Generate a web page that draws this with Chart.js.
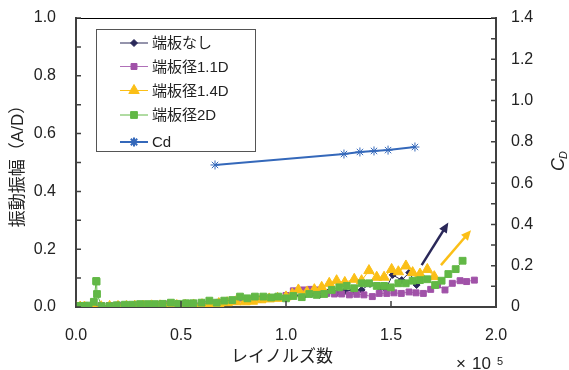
<!DOCTYPE html>
<html>
<head>
<meta charset="utf-8">
<script src="https://cdn.jsdelivr.net/npm/chart.js@4.4.1/dist/chart.umd.min.js"></script>
<style>body{margin:0;background:#fff}</style>
</head>
<body>
<canvas id="myChart" width="569" height="370"></canvas>
<script>
// ---------------- data (Re in units of 1e5) ----------------
var reNashi = [0.0,0.02,0.04,0.08,0.12,0.16,0.2,0.24,0.28,0.32,0.36,0.40,0.44,0.48,0.52,0.56,0.60,0.64,0.68,0.72,0.76,0.80,0.84,0.88,0.92,0.96,1.0,1.04,1.08,1.12,1.16,1.20,1.24,1.28,1.32,1.36,1.40,1.448,1.475,1.508,1.551,1.587,1.622];
var ampNashi = [0.002,0.002,0.003,0.004,0.005,0.005,0.006,0.006,0.007,0.007,0.008,0.008,0.008,0.0,0.009,0.010,0.011,0.012,0.015,0.017,0.020,0.022,0.025,0.028,0.030,0.033,0.035,0.040,0.036,0.045,0.042,0.050,0.048,0.055,0.059,0.059,0.080,0.065,0.062,0.111,0.093,0.119,0.076];

var re11D = [0.0,0.02,0.04,0.08,0.12,0.16,0.2,0.24,0.28,0.32,0.36,0.40,0.44,0.48,0.52,0.56,0.60,0.64,0.68,0.72,0.76,0.80,0.84,0.88,0.92,0.96,1.0,1.035,1.082,1.114,1.154,1.194,1.23,1.265,1.302,1.337,1.371,1.411,1.444,1.48,1.514,1.549,1.586,1.619,1.654,1.689,1.722,1.757,1.792,1.829,1.86,1.897];
var amp11D = [0.002,0.002,0.003,0.004,0.005,0.005,0.006,0.006,0.007,0.008,0.008,0.009,0.010,0.008,0.011,0.012,0.012,0.014,0.016,0.018,0.020,0.022,0.025,0.028,0.030,0.034,0.040,0.056,0.059,0.061,0.059,0.047,0.045,0.045,0.042,0.044,0.042,0.036,0.047,0.047,0.049,0.047,0.052,0.049,0.047,0.061,0.076,0.059,0.082,0.091,0.088,0.093];

var re14D = [0.0,0.02,0.04,0.08,0.12,0.16,0.2,0.24,0.28,0.32,0.36,0.40,0.44,0.48,0.52,0.56,0.60,0.64,0.68,0.72,0.76,0.805,0.84,0.88,0.92,0.96,1.0,1.03,1.059,1.10,1.135,1.17,1.206,1.241,1.28,1.325,1.36,1.395,1.432,1.467,1.503,1.535,1.571,1.603,1.638,1.673,1.706];
var amp14D = [0.0,0.0,0.0,0.001,0.001,0.002,0.002,0.002,0.003,0.003,0.004,0.004,0.004,0.005,0.006,0.007,0.008,0.009,0.012,0.015,0.018,0.018,0.020,0.025,0.028,0.030,0.035,0.045,0.059,0.052,0.060,0.068,0.082,0.091,0.085,0.096,0.091,0.126,0.103,0.103,0.130,0.122,0.142,0.119,0.114,0.130,0.105];

var re2D = [0.0,0.01,0.02,0.03,0.04,0.06,0.085,0.096,0.098,0.1,0.122,0.159,0.194,0.233,0.268,0.305,0.341,0.376,0.413,0.452,0.487,0.524,0.559,0.598,0.635,0.670,0.706,0.744,0.781,0.816,0.852,0.892,0.929,0.963,1.0,1.035,1.075,1.111,1.146,1.182,1.218,1.254,1.289,1.325,1.360,1.395,1.432,1.467,1.499,1.535,1.570,1.603,1.638,1.673,1.710,1.741,1.773,1.808,1.841];
var amp2D = [0.003,0.003,0.003,0.003,0.004,0.005,0.018,0.09,0.088,0.045,0.003,0.003,0.006,0.008,0.008,0.010,0.010,0.010,0.011,0.015,0.011,0.013,0.013,0.015,0.022,0.015,0.022,0.024,0.036,0.030,0.036,0.036,0.033,0.036,0.030,0.038,0.034,0.045,0.042,0.045,0.059,0.068,0.073,0.065,0.082,0.082,0.073,0.073,0.068,0.082,0.082,0.091,0.093,0.096,0.076,0.091,0.114,0.131,0.160];

var reCd = [0.662,1.276,1.352,1.419,1.486,1.614];
var valCd = [0.688,0.741,0.751,0.756,0.760,0.775];

// arrows: [start, end]
var arrowRe = [[1.646,1.773],[1.738,1.881]];
var arrowAmp = [[0.145,0.292],[0.145,0.266]];
var arrowColor = ["#2A2859","#FBBF17"];

var xTicks = [0,0.5,1.0,1.5,2.0];

var FONT = "'Liberation Sans','Noto Sans CJK JP',sans-serif";

function pts(xs, ys){
    return xs.map(function(v,i){ return {x:v, y:ys[i]}; });
}

function noPad(s){
    s.paddingTop = 0; s.paddingBottom = 0; s.paddingLeft = 0; s.paddingRight = 0;
}

// ---------------- plugin: frame, ticks, arrows, titles, legend ----------------
var extras = {
    id: 'extras',
    afterDraw: function(chart){
        var ctx = chart.ctx;
        var a = chart.chartArea;
        var sx = chart.scales.x, sy = chart.scales.y, sy2 = chart.scales.y2;
        ctx.save();
        // top frame
        ctx.strokeStyle = '#000';
        ctx.lineWidth = 1;
        ctx.beginPath();
        ctx.moveTo(a.left, a.top + 0.5);
        ctx.lineTo(a.right, a.top + 0.5);
        ctx.stroke();
        // inward ticks
        ctx.strokeStyle = '#404040';
        ctx.lineWidth = 1.5;
        ctx.beginPath();
        for (var v = 0; v <= 10; v++){
            var py = sy.getPixelForValue(v/10);
            ctx.moveTo(a.left, py); ctx.lineTo(a.left + 5, py);
        }
        for (var v = 0; v <= 14; v++){
            var py = sy2.getPixelForValue(v/10);
            ctx.moveTo(a.right, py); ctx.lineTo(a.right - 5, py);
        }
        xTicks.forEach(function(t){
            var px = sx.getPixelForValue(t);
            ctx.moveTo(px, a.bottom); ctx.lineTo(px, a.bottom - 6);
        });
        ctx.stroke();

        // arrows
        for (var i = 0; i < arrowRe.length; i++){
            var x0 = sx.getPixelForValue(arrowRe[i][0]), y0 = sy.getPixelForValue(arrowAmp[i][0]);
            var x1 = sx.getPixelForValue(arrowRe[i][1]), y1 = sy.getPixelForValue(arrowAmp[i][1]);
            var ang = Math.atan2(y1 - y0, x1 - x0);
            var hl = 10, hw = 4.5;
            ctx.strokeStyle = arrowColor[i];
            ctx.fillStyle = arrowColor[i];
            ctx.lineWidth = 2.5;
            ctx.beginPath();
            ctx.moveTo(x0, y0);
            ctx.lineTo(x1 - hl*0.8*Math.cos(ang), y1 - hl*0.8*Math.sin(ang));
            ctx.stroke();
            ctx.beginPath();
            ctx.moveTo(x1, y1);
            ctx.lineTo(x1 - hl*Math.cos(ang) + hw*Math.sin(ang), y1 - hl*Math.sin(ang) - hw*Math.cos(ang));
            ctx.lineTo(x1 - hl*Math.cos(ang) - hw*Math.sin(ang), y1 - hl*Math.sin(ang) + hw*Math.cos(ang));
            ctx.closePath();
            ctx.fill();
        }

        // titles
        ctx.fillStyle = '#222';
        ctx.textAlign = 'center';
        ctx.textBaseline = 'middle';
        ctx.font = '17px ' + FONT;
        ctx.fillText('レイノルズ数', 282, 357);
        ctx.save();
        ctx.translate(18, 162);
        ctx.rotate(-Math.PI/2);
        ctx.fillText('振動振幅（A/D）', 0, 0);
        ctx.restore();
        // x10^5
        ctx.textAlign = 'left';
        ctx.textBaseline = 'alphabetic';
        ctx.font = '17px ' + FONT;
        ctx.fillText('×', 456, 369);
        ctx.fillText('10', 472, 369);
        ctx.font = '11px ' + FONT;
        ctx.fillText('5', 497, 365);
        // C_D
        ctx.save();
        ctx.translate(564, 171);
        ctx.rotate(-Math.PI/2);
        ctx.font = 'italic 18px ' + FONT;
        ctx.fillText('C', 0, 0);
        ctx.font = 'italic 11px ' + FONT;
        ctx.fillText('D', 12, 3);
        ctx.restore();

        // legend
        ctx.fillStyle = '#fff';
        ctx.fillRect(96, 29, 159, 122);
        ctx.strokeStyle = '#555';
        ctx.lineWidth = 1;
        ctx.strokeRect(96.5, 29.5, 159, 122);
        var rows = [43, 66.5, 90.5, 115, 142];
        var dsList = chart.data.datasets;
        ctx.font = '15px ' + FONT;
        ctx.textBaseline = 'middle';
        for (var i = 0; i < dsList.length; i++){
            var ds = dsList[i];
            ctx.strokeStyle = ds.borderColor;
            ctx.lineWidth = ds.borderWidth;
            ctx.beginPath();
            ctx.moveTo(120, rows[i]); ctx.lineTo(148, rows[i]);
            ctx.stroke();
            ctx.fillStyle = ds.pointBackgroundColor;
            ctx.strokeStyle = ds.pointBorderColor;
            Chart.helpers.drawPoint(ctx, {pointStyle: ds.pointStyle, radius: ds.pointRadius, borderWidth: 1, rotation: 0}, 134, rows[i]);
            ctx.fillStyle = '#222';
            ctx.fillText(ds.label, 152, rows[i] + 1);
        }
        ctx.restore();
    }
};

var ctx = document.getElementById('myChart').getContext('2d');
var myChart = new Chart(ctx, {
    type: 'scatter',
    data: {
        datasets: [
            {label:'端板なし', data: pts(reNashi, ampNashi), yAxisID:'y', showLine:true, order:4,
             borderColor:'#2A2859', borderWidth:1, pointStyle:'rectRot', pointRadius:3.5,
             pointBackgroundColor:'#2A2859', pointBorderColor:'#2A2859'},
            {label:'端板径1.1D', data: pts(re11D, amp11D), yAxisID:'y', showLine:true, order:3,
             borderColor:'#B070B8', borderWidth:1, pointStyle:'rect', pointRadius:4.2,
             pointBackgroundColor:'#A052A8', pointBorderColor:'#A052A8'},
            {label:'端板径1.4D', data: pts(re14D, amp14D), yAxisID:'y', showLine:true, order:2,
             borderColor:'#FBBF17', borderWidth:1, pointStyle:'triangle', pointRadius:6,
             pointBackgroundColor:'#FBBF17', pointBorderColor:'#FBBF17'},
            {label:'端板径2D', data: pts(re2D, amp2D), yAxisID:'y', showLine:true, order:1,
             borderColor:'#62B846', borderWidth:1, pointStyle:'rect', pointRadius:4.8,
             pointBackgroundColor:'#62B846', pointBorderColor:'#62B846'},
            {label:'Cd', data: pts(reCd, valCd), yAxisID:'y2', showLine:true, order:0,
             borderColor:'#3468BA', borderWidth:2, pointStyle:'star', pointRadius:4.5,
             pointBackgroundColor:'#3468BA', pointBorderColor:'#3468BA', pointBorderWidth:1}
        ]
    },
    options: {
        responsive: false,
        animation: false,
        layout: {padding: {top: 18, left: 0, right: 0, bottom: 0}},
        plugins: {legend: {display: false}, tooltip: {enabled: false}},
        scales: {
            x: {
                type: 'linear', min: 0, max: 2,
                afterFit: function(s){ s.height = 63; noPad(s); },
                afterBuildTicks: function(s){ s.ticks = xTicks.map(function(v){ return {value: v}; }); },
                ticks: {callback: function(v){ return v.toFixed(1); }, padding: 19, maxRotation: 0,
                        color: '#222', font: {family: FONT, size: 16}},
                grid: {display: false, drawTicks: false},
                border: {color: '#404040', width: 2}
            },
            y: {
                position: 'left', min: 0, max: 1,
                afterFit: function(s){ s.width = 76; noPad(s); },
                ticks: {stepSize: 0.2, callback: function(v){ return v.toFixed(1); }, padding: 20,
                        color: '#222', font: {family: FONT, size: 16}},
                grid: {display: false, drawTicks: false},
                border: {color: '#404040', width: 2}
            },
            y2: {
                position: 'right', min: 0, max: 1.4,
                afterFit: function(s){ s.width = 73; noPad(s); },
                ticks: {stepSize: 0.2, padding: 15,
                        color: '#222', font: {family: FONT, size: 16}},
                grid: {display: false, drawTicks: false},
                border: {color: '#404040', width: 2}
            }
        }
    },
    plugins: [extras]
});
</script>
</body>
</html>
